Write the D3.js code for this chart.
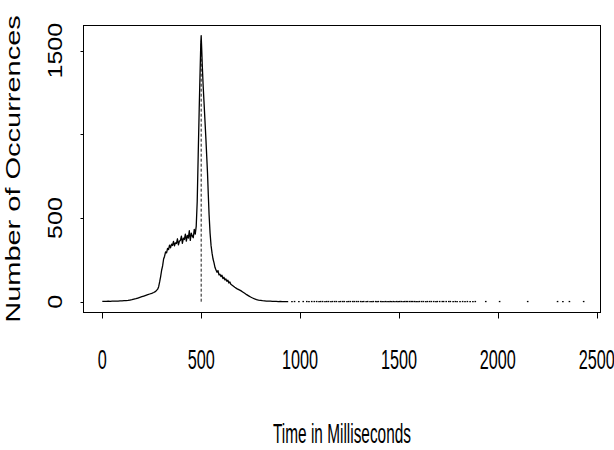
<!DOCTYPE html>
<html>
  <head>
    <meta charset="utf-8">
    <title>Time in Milliseconds</title>
    <script src="https://d3js.org/d3.v7.min.js"></script>
    <style>
      body { margin: 0; background: #fff; }
      text { font-family: "Liberation Sans", Arial, sans-serif; fill: #000; }
    </style>
  </head>
  <body>
    <div id="chart"></div>
    <script>
    // histogram of response times (ms)
    var times = [0, 10, 20, 30, 40, 50, 60, 70, 80, 90, 100, 110, 120, 130, 140, 150, 160, 170, 180, 190,
        200, 210, 220, 230, 240, 250, 260, 270, 280, 285, 290, 295, 300, 305, 310, 315, 320, 325, 330,
        335, 340, 345, 350, 355, 360, 365, 370, 375, 380, 385, 390, 395, 400, 405, 410, 415, 420, 425,
        430, 435, 440, 445, 450, 455, 460, 465, 470, 475, 480, 485, 490, 495, 498, 500, 503, 506, 510,
        514, 519, 524, 528, 532, 536, 540, 545, 550, 555, 560, 565, 570, 575, 580, 585, 590, 595, 600,
        605, 610, 615, 620, 625, 630, 635, 640, 645, 650, 660, 670, 680, 690, 700, 710, 720, 730, 740,
        750, 760, 770, 780, 790, 800, 810, 820, 830, 840, 850, 860, 870, 880, 890, 900, 910, 920, 930, 940];
    var counts = [2, 2, 2, 3, 2, 3, 3, 4, 4, 5, 5, 6, 7, 8, 10, 12, 15, 18, 22, 26,
        30, 34, 38, 42, 46, 50, 55, 62, 75, 90, 118, 150, 188, 214, 255, 272, 298, 292, 318,
        312, 338, 322, 344, 336, 360, 334, 352, 348, 376, 340, 362, 366, 392, 348, 380, 372, 404, 362,
        396, 380, 424, 366, 410, 392, 382, 432, 404, 452, 600, 880, 1150, 1400, 1540, 1590, 1500, 1400, 1290,
        1200, 1085, 970, 870, 770, 640, 520, 410, 335, 290, 255, 232, 204, 190, 176, 186, 160, 164, 150,
        158, 138, 146, 130, 136, 122, 128, 112, 118, 104, 95, 86, 78, 72, 66, 58, 50, 42, 35,
        28, 22, 17, 13, 10, 8, 6, 5, 4, 3, 3, 2, 2, 2, 1, 2, 1, 1, 1, 1];
    // isolated long responses beyond the main curve (one or two counts each)
    var tailTimes = [955, 968, 990, 1012, 1030, 1041, 1055, 1068, 1080, 1092, 1100, 1110, 1122, 1131,
        1140, 1152, 1160, 1171, 1180, 1193, 1201, 1212, 1220, 1233, 1241, 1250, 1262, 1270, 1281, 1290,
        1302, 1310, 1318, 1330, 1338, 1350, 1359, 1366, 1378, 1385, 1392, 1404, 1411, 1420, 1428, 1436,
        1445, 1452, 1460, 1468, 1476, 1485, 1492, 1500, 1508, 1517, 1525, 1533, 1540, 1550, 1558, 1566,
        1575, 1583, 1592, 1600, 1611, 1620, 1632, 1640, 1651, 1660, 1672, 1683, 1690, 1702, 1715, 1722,
        1735, 1748, 1756, 1770, 1781, 1790, 1805, 1818, 1830, 1842, 1856, 1870, 1882, 1935, 2005, 2147,
        2298, 2325, 2358, 2430];
    var tailCounts = tailTimes.map(function() { return 1; });
    var markTime = 500;
    var markTop = 1560;
    var xTicks = [0, 500, 1000, 1500, 2000, 2500];
    var yTicks = [0, 500, 1000, 1500];
    var yLabels = [0, 500, 1500];   // 1000 is not labelled in the original

    var width = 614, height = 450;
    var box = {left: 83.5, right: 600.5, top: 25.5, bottom: 312.5};

    var x = d3.scaleLinear().domain([0, 2500]).range([102.3, 596.7]);
    var y = d3.scaleLinear().domain([0, 1500]).range([301.7, 50.7]);

    var svg = d3.select("#chart").append("svg")
        .attr("width", width)
        .attr("height", height);

    // frame
    svg.append("rect")
        .attr("x", box.left).attr("y", box.top)
        .attr("width", box.right - box.left)
        .attr("height", box.bottom - box.top)
        .attr("fill", "none").attr("stroke", "#000").attr("stroke-width", 1);

    // x axis ticks and labels
    svg.selectAll(".xtick").data(xTicks).enter().append("line")
        .attr("x1", function(d) { return Math.round(x(d)) + 0.5; })
        .attr("x2", function(d) { return Math.round(x(d)) + 0.5; })
        .attr("y1", box.bottom).attr("y2", box.bottom + 6)
        .attr("stroke", "#000");
    svg.selectAll(".xlab").data(xTicks).enter().append("text")
        .attr("transform", function(d) { return "translate(" + x(d) + ",369) scale(0.58,1)"; })
        .attr("text-anchor", "middle")
        .style("font-size", "28px")
        .text(function(d) { return d; });

    // y axis ticks and labels
    svg.selectAll(".ytick").data(yTicks).enter().append("line")
        .attr("x1", box.left - 3).attr("x2", box.left)
        .attr("y1", function(d) { return Math.round(y(d)) + 0.5; })
        .attr("y2", function(d) { return Math.round(y(d)) + 0.5; })
        .attr("stroke", "#000");
    svg.selectAll(".ylab").data(yLabels).enter().append("text")
        .attr("transform", function(d) { return "translate(62," + y(d) + ") rotate(-90) scale(1.25,1)"; })
        .attr("text-anchor", "middle")
        .style("font-size", "20px")
        .text(function(d) { return d; });

    // axis titles
    svg.append("text")
        .attr("transform", "translate(20,169) rotate(-90) scale(1.45,1)")
        .attr("text-anchor", "middle")
        .style("font-size", "20px")
        .text("Number of Occurrences");
    svg.append("text")
        .attr("transform", "translate(342,443) scale(0.57,1)")
        .attr("text-anchor", "middle")
        .style("font-size", "27px")
        .text("Time in Milliseconds");

    // dashed marker at 500 ms
    svg.append("line")
        .attr("x1", x(markTime)).attr("x2", x(markTime))
        .attr("y1", y(0)).attr("y2", y(markTop))
        .attr("stroke", "#000").attr("stroke-width", 0.9)
        .attr("stroke-dasharray", "3,2");

    // main curve
    var pts = times.map(function(t, i) { return [t, counts[i]]; });
    var line = d3.line()
        .x(function(d) { return x(d[0]); })
        .y(function(d) { return y(d[1]); });
    svg.append("path")
        .datum(pts)
        .attr("d", line)
        .attr("fill", "none")
        .attr("stroke", "#000")
        .attr("stroke-width", 1.3)
        .attr("stroke-linejoin", "round");

    // scattered tail counts
    svg.selectAll(".tail").data(tailTimes).enter().append("line")
        .attr("x1", function(d) { return x(d); })
        .attr("x2", function(d) { return x(d) + 1.6; })
        .attr("y1", function(d, i) { return y(tailCounts[i]); })
        .attr("y2", function(d, i) { return y(tailCounts[i]); })
        .attr("stroke", "#000").attr("stroke-width", 1.3);
    </script>
  </body>
</html>
